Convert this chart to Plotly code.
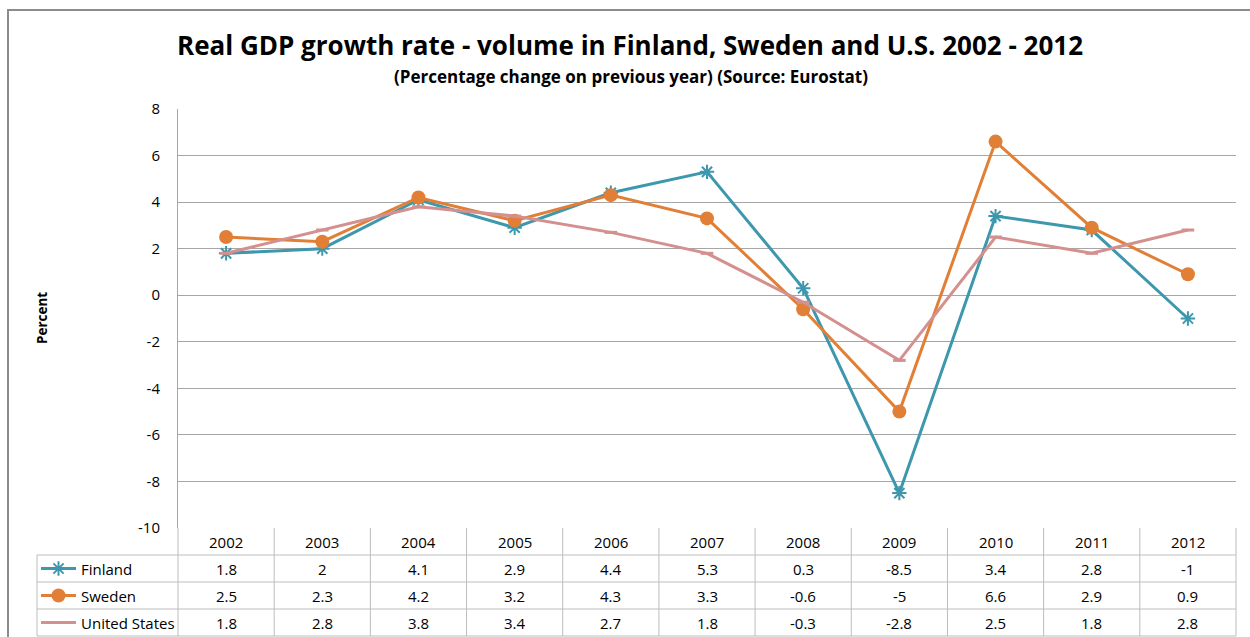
import plotly.graph_objects as go

# data
years = ['2002', '2003', '2004', '2005', '2006', '2007', '2008', '2009', '2010', '2011', '2012']
finland = [1.8, 2, 4.1, 2.9, 4.4, 5.3, 0.3, -8.5, 3.4, 2.8, -1]
sweden = [2.5, 2.3, 4.2, 3.2, 4.3, 3.3, -0.6, -5, 6.6, 2.9, 0.9]
united_states = [1.8, 2.8, 3.8, 3.4, 2.7, 1.8, -0.3, -2.8, 2.5, 1.8, 2.8]
y_ticks = [8, 6, 4, 2, 0, -2, -4, -6, -8, -10]

W, H = 1250, 637
FONT = 'Open Sans'
GRID = '#a6a6a6'
TABLE = '#bdbdbd'

series = [
    dict(name='Finland', values=finland, color='#3d97ad',
         marker=dict(symbol='asterisk-open', size=12, color='#3d97ad', line=dict(width=2, color='#3d97ad'))),
    dict(name='Sweden', values=sweden, color='#e07f35',
         marker=dict(symbol='circle', size=14, color='#e07f35')),
    dict(name='United States', values=united_states, color='#d4908f',
         marker=dict(symbol='line-ew-open', size=9, color='#d4908f', line=dict(width=3, color='#d4908f'))),
]


def px(x):
    return x / W


def py(y):
    return 1 - y / H


plot_left, plot_right, plot_top, plot_bottom = 178, 1236, 109, 528
header_bottom = 555
row_h = 27
table_left = 37
col_w = (plot_right - plot_left) / len(years)

fig = go.Figure()

for s in series:
    fig.add_trace(go.Scatter(x=years, y=s['values'], mode='lines+markers', name=s['name'],
                             line=dict(color=s['color'], width=3), marker=s['marker'],
                             showlegend=False))

# legend keys inside the data table (pixel overlay axes)
for i, s in enumerate(series):
    yc = header_bottom + row_h * i + row_h / 2
    fig.add_trace(go.Scatter(x=[41, 76], y=[yc, yc], mode='lines', line=dict(color=s['color'], width=3),
                             xaxis='x2', yaxis='y2', showlegend=False, hoverinfo='skip'))
    fig.add_trace(go.Scatter(x=[58.5], y=[yc], mode='markers', marker=s['marker'],
                             xaxis='x2', yaxis='y2', showlegend=False, hoverinfo='skip'))

shapes = []
annotations = []

# outer chart frame
shapes.append(dict(type='rect', xref='paper', yref='paper', x0=px(8), x1=px(1270), y0=py(10), y1=py(660),
                   line=dict(color='#8c8c8c', width=2)))

# header row (years): vertical lines and labels
for i, yr in enumerate(years):
    xl = plot_left + i * col_w
    shapes.append(dict(type='line', xref='paper', yref='paper', x0=px(xl), x1=px(xl),
                       y0=py(plot_bottom), y1=py(H - 1), line=dict(color=TABLE, width=1)))
    annotations.append(dict(x=px(xl + col_w / 2), y=py((plot_bottom + header_bottom) / 2),
                            xref='paper', yref='paper', text=yr, showarrow=False,
                            xanchor='center', yanchor='middle', font=dict(size=15, color='#000')))
shapes.append(dict(type='line', xref='paper', yref='paper', x0=px(plot_right), x1=px(plot_right),
                   y0=py(plot_bottom), y1=py(H - 1), line=dict(color=TABLE, width=1)))

# table horizontal lines
for k in range(4):
    yy = header_bottom + row_h * k
    shapes.append(dict(type='line', xref='paper', yref='paper', x0=px(table_left), x1=px(plot_right),
                       y0=py(yy), y1=py(yy), line=dict(color=TABLE, width=1)))
shapes.append(dict(type='line', xref='paper', yref='paper', x0=px(table_left), x1=px(table_left),
                   y0=py(header_bottom), y1=py(header_bottom + row_h * 3), line=dict(color=TABLE, width=1)))

# table values and row labels
for r, s in enumerate(series):
    yc = py(header_bottom + row_h * r + row_h / 2)
    annotations.append(dict(x=px(79), y=yc, xref='paper', yref='paper', text=s['name'], showarrow=False,
                            xanchor='left', yanchor='middle', font=dict(size=15, color='#000')))
    for i, v in enumerate(s['values']):
        annotations.append(dict(x=px(plot_left + (i + 0.5) * col_w), y=yc, xref='paper', yref='paper',
                                text=f'{v:g}', showarrow=False, xanchor='center', yanchor='middle',
                                font=dict(size=15, color='#000')))

# titles
annotations.append(dict(x=px(630), y=py(45), xref='paper', yref='paper', showarrow=False,
                        xanchor='center', yanchor='middle',
                        text='<b>Real GDP growth rate - volume in Finland, Sweden and U.S. 2002 - 2012</b>',
                        font=dict(size=26, color='#000')))
annotations.append(dict(x=px(631), y=py(76), xref='paper', yref='paper', showarrow=False,
                        xanchor='center', yanchor='middle',
                        text='<b>(Percentage change on previous year) (Source: Eurostat)</b>',
                        font=dict(size=17, color='#000')))
annotations.append(dict(x=px(42), y=py(318), xref='paper', yref='paper', showarrow=False,
                        xanchor='center', yanchor='middle',
                        text='<b>Percent</b>', textangle=-90, font=dict(size=13.5, color='#000')))

fig.update_layout(
    width=W, height=H,
    margin=dict(l=0, r=0, t=0, b=0, autoexpand=False),
    paper_bgcolor='white', plot_bgcolor='rgba(0,0,0,0)',
    font=dict(family=FONT, color='#000'),
    shapes=shapes, annotations=annotations,
    xaxis=dict(domain=[px(plot_left), px(plot_right)], range=[-0.5, 10.5], type='category',
               showgrid=False, showticklabels=False, zeroline=False, showline=False, automargin=False),
    yaxis=dict(domain=[py(plot_bottom), py(plot_top)], range=[-10, 8],
               tickvals=y_ticks, ticktext=[str(t) for t in y_ticks],
               showgrid=True, gridcolor=GRID, gridwidth=1, zeroline=False,
               showline=True, linecolor=GRID, linewidth=1, ticks='', automargin=False,
               tickfont=dict(size=15, color='#000'), ticklabelstandoff=14),
    xaxis2=dict(domain=[0, 1], range=[0, W], visible=False, fixedrange=True, anchor='y2', automargin=False),
    yaxis2=dict(domain=[0, 1], range=[H, 0], visible=False, fixedrange=True, anchor='x2', automargin=False),
)

pin_page = ("document.body.style.margin='0';"
            "var gd=document.getElementById('{plot_id}');"
            "gd.style.position='fixed';gd.style.top='0';gd.style.left='0';")

fig.write_html('out.html', config={'displayModeBar': False}, post_script=pin_page)
